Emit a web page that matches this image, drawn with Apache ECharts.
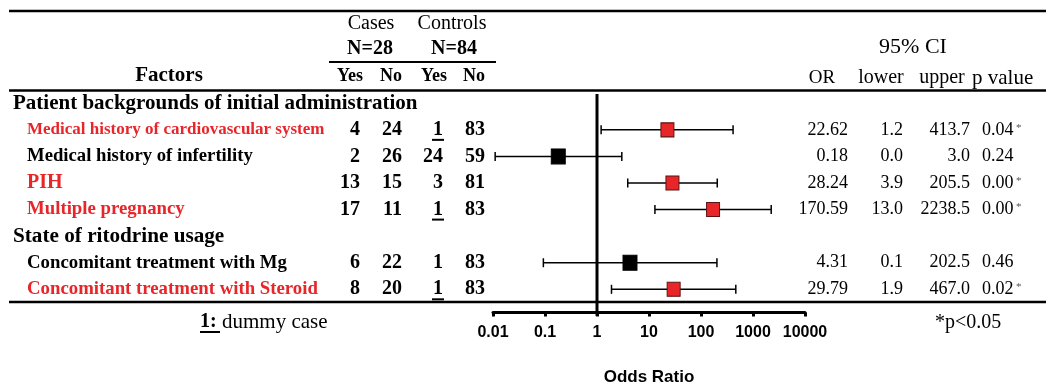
<!DOCTYPE html>
<html>
<head>
<meta charset="utf-8">
<script src="https://cdn.jsdelivr.net/npm/echarts@6/dist/echarts.min.js"></script>
<style>
  html, body { margin: 0; padding: 0; background: #fff; }
  #main { width: 1046px; height: 383px; }
</style>
</head>
<body>
<div id="main"></div>
<script>
// rows of the table, top to bottom (group headings have no numbers)
var factors = [
  'Patient backgrounds of initial administration',
  'Medical history of cardiovascular system',
  'Medical history of infertility',
  'PIH',
  'Multiple pregnancy',
  'State of ritodrine usage',
  'Concomitant treatment with Mg',
  'Concomitant treatment with Steroid'
];
var groupRow   = [true, false, false, false, false, true, false, false];
var casesYes   = [null, 4, 2, 13, 17, null, 6, 8];
var casesNo    = [null, 24, 26, 15, 11, null, 22, 20];
var ctrlYes    = [null, 1, 24, 3, 1, null, 1, 1];
var ctrlNo     = [null, 83, 59, 81, 83, null, 83, 83];
var dummyCase  = [false, true, false, false, true, false, false, true];
var oddsRatio  = [null, 22.62, 0.18, 28.24, 170.59, null, 4.31, 29.79];
var ciLower    = [null, 1.2, 0.011, 3.9, 13.0, null, 0.093, 1.9];
var ciUpper    = [null, 413.7, 3.0, 205.5, 2238.5, null, 202.5, 467.0];
var pValue     = [null, '0.04', '0.24', '0.00', '0.00', null, '0.46', '0.02'];
var significant = [false, true, false, true, true, false, false, true];
var tickLabels = ['0.01', '0.1', '1', '10', '100', '1000', '10000'];

var RED = '#e8262a';
var SERIF = '"Liberation Serif", "Times New Roman", serif';
var SANS = '"Liberation Sans", Arial, sans-serif';
// label font size per row (the source squeezes some labels)
var labelSize = [21, 17, 18.7, 20, 18.8, 21.2, 18.8, 18.8];

var chart = echarts.init(document.getElementById('main'));

var ciData = [], orData = [];
for (var i = 0; i < factors.length; i++) {
  if (groupRow[i]) continue;
  ciData.push([ciLower[i], ciUpper[i], i]);
  orData.push({
    value: [oddsRatio[i], i],
    symbolSize: significant[i] ? [13, 14] : [14, 15],
    itemStyle: {
      color: significant[i] ? RED : '#000',
      borderColor: significant[i] ? '#5a1212' : '#000',
      borderWidth: 1,
      opacity: 1
    }
  });
}

var option = {
  animation: false,
  grid: { left: 493, right: 241, top: 90, bottom: 80.4, containLabel: false, outerBoundsMode: 'none' },
  xAxis: {
    type: 'log',
    logBase: 10,
    min: 0.01,
    max: 10000,
    offset: 10,
    axisLine: { onZero: false, lineStyle: { color: '#000', width: 3 } },
    axisTick: { length: 4, lineStyle: { color: '#000', width: 3 } },
    splitLine: { show: false },
    axisLabel: {
      color: '#000',
      fontFamily: SANS,
      fontWeight: 'bold',
      fontSize: 16,
      margin: 12,
      formatter: function (v) {
        return tickLabels[Math.round(Math.log10(v)) + 2];
      }
    },
    name: 'Odds Ratio',
    nameLocation: 'middle',
    nameGap: 56,
    nameTextStyle: { color: '#000', fontFamily: SANS, fontWeight: 'bold', fontSize: 17 }
  },
  yAxis: { type: 'value', min: -0.5, max: 7.5, inverse: true, show: false },
  series: [
    {
      // reference line at OR = 1
      type: 'line',
      data: [[1, -0.35], [1, 8.0]],
      clip: false,
      symbol: 'none',
      silent: true,
      lineStyle: { color: '#000', width: 3 }
    },
    {
      type: 'custom',
      data: ciData,
      encode: { x: [0, 1], y: 2 },
      clip: false,
      silent: true,
      renderItem: function (params, api) {
        var y = api.value(2);
        var a = api.coord([api.value(0), y]);
        var b = api.coord([api.value(1), y]);
        var h = 4.5;
        var st = { stroke: '#000', lineWidth: 1.5 };
        return {
          type: 'group',
          children: [
            { type: 'line', shape: { x1: a[0], y1: a[1], x2: b[0], y2: b[1] }, style: st },
            { type: 'line', shape: { x1: a[0], y1: a[1] - h, x2: a[0], y2: a[1] + h }, style: st },
            { type: 'line', shape: { x1: b[0], y1: b[1] - h, x2: b[0], y2: b[1] + h }, style: st }
          ]
        };
      }
    },
    {
      type: 'scatter',
      symbol: 'rect',
      data: orData,
      z: 5
    }
  ]
};
chart.setOption(option);

// table drawn around the plot, rows aligned with the y scale
function rowY(i) {
  return chart.convertToPixel({ yAxisIndex: 0 }, i);
}
function txt(x, y, s, size, opts) {
  opts = opts || {};
  return {
    type: 'text', x: x, y: y, silent: true,
    style: {
      text: s,
      fill: opts.color || '#000',
      fontFamily: opts.family || SERIF,
      fontWeight: opts.bold ? 'bold' : 'normal',
      fontSize: size,
      align: opts.align || 'left',
      verticalAlign: 'middle'
    }
  };
}
function hline(x1, x2, y, w) {
  return { type: 'line', silent: true, shape: { x1: x1, y1: y, x2: x2, y2: y }, style: { stroke: '#000', lineWidth: w } };
}

var g = [];
g.push(hline(9, 1046, 11, 2.5));
g.push(hline(329, 496, 62, 2));
g.push(hline(9, 1046, 90.5, 2.5));
g.push(hline(9, 1046, 302, 2.5));

g.push(txt(371, 24, 'Cases', 20, { align: 'center' }));
g.push(txt(452, 24, 'Controls', 20, { align: 'center' }));
g.push(txt(370, 49, 'N=28', 20, { align: 'center', bold: true }));
g.push(txt(454, 49, 'N=84', 20, { align: 'center', bold: true }));
g.push(txt(169, 76, 'Factors', 21, { align: 'center', bold: true }));
var yn = ['Yes', 'No', 'Yes', 'No'];
var ynX = [363, 402, 447, 485];
for (var k = 0; k < 4; k++) g.push(txt(ynX[k], 76, yn[k], 18, { align: 'right', bold: true }));

g.push(txt(913, 47, '95% CI', 22, { align: 'center' }));
g.push(txt(822, 78, 'OR', 19, { align: 'center' }));
g.push(txt(881, 78, 'lower', 20, { align: 'center' }));
g.push(txt(942, 78, 'upper', 20, { align: 'center' }));
g.push(txt(972, 78, 'p value', 21));

var colX = [360, 402, 443, 485];
for (var r = 0; r < factors.length; r++) {
  var y = rowY(r);
  if (groupRow[r]) {
    g.push(txt(13, y, factors[r], labelSize[r], { bold: true }));
    continue;
  }
  g.push(txt(27, y, factors[r], labelSize[r], { bold: true, color: significant[r] ? RED : '#000' }));
  var nums = [casesYes[r], casesNo[r], ctrlYes[r], ctrlNo[r]];
  for (var c = 0; c < 4; c++) g.push(txt(colX[c], y, String(nums[c]), 20, { align: 'right', bold: true }));
  if (dummyCase[r]) g.push(hline(432, 444, y + 10, 2));
  g.push(txt(848, y, oddsRatio[r].toFixed(2), 18, { align: 'right' }));
  g.push(txt(903, y, ciLower[r].toFixed(1), 18, { align: 'right' }));
  g.push(txt(970, y, ciUpper[r].toFixed(1), 18, { align: 'right' }));
  g.push(txt(982, y, pValue[r], 18));
  if (significant[r]) g.push(txt(1016, y - 2, '*', 11, { color: '#555' }));
}

g.push(txt(200, 322, '1:', 20, { bold: true }));
g.push(hline(200, 220, 332, 2));
g.push(txt(222, 322, 'dummy case', 21));
g.push(txt(935, 323, '*p<0.05', 20));

chart.setOption({ graphic: g });
</script>
</body>
</html>
